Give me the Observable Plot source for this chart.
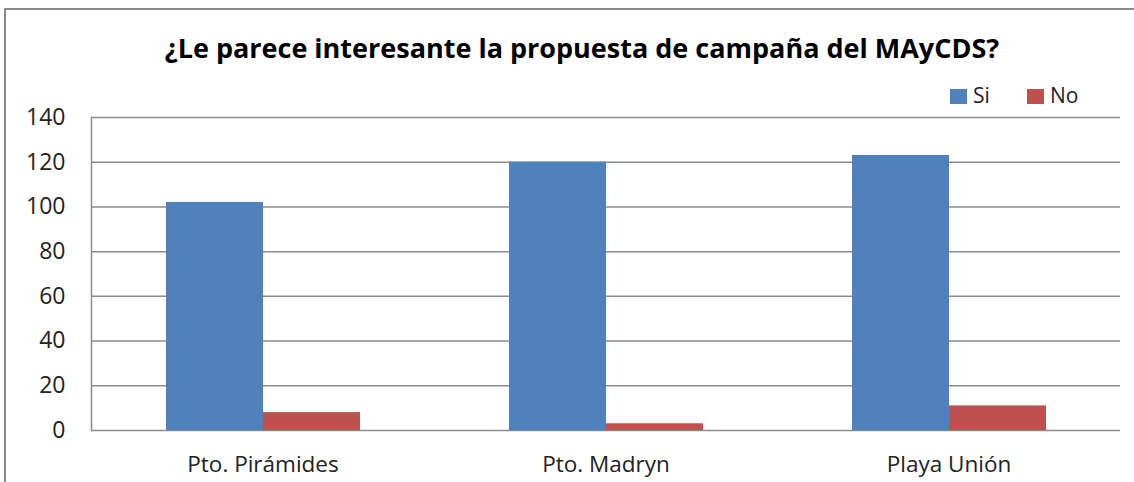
<!DOCTYPE html>
<html>
<head>
<meta charset="utf-8">
<script src="https://cdn.jsdelivr.net/npm/d3@7"></script>
<script src="https://cdn.jsdelivr.net/npm/@observablehq/plot@0.6"></script>
<style>
  html, body { margin: 0; padding: 0; background: #fff; overflow: hidden; }
  #wrap { position: relative; width: 1134px; height: 482px; overflow: hidden; }
  #btop { position: absolute; left: 4px; top: 8px; width: 1130px; height: 2px; background: #8a8a8a; }
  #bleft { position: absolute; left: 4px; top: 8px; width: 2px; height: 474px; background: #8a8a8a; }
  #rcover { position: absolute; left: 1122px; top: 10px; width: 12px; height: 472px; background: #fff; }
  #title { position: absolute; left: 0; width: 1164px; top: 29px; text-align: center; white-space: nowrap;
           font-family: "Open Sans", sans-serif; font-weight: bold; font-size: 27px; color: #000; }
  #legend { position: absolute; left: 912px; top: 80px; width: 197px; height: 34px; background: #fff;
            font-family: "Open Sans", sans-serif; font-size: 21px; color: #222; }
  .sw { position: absolute; top: 9px; width: 17px; height: 15px; }
  .lt { position: absolute; top: 1px; }
  #chart { position: absolute; left: 0; top: 0; }
</style>
</head>
<body>
<div id="wrap">
  <div id="btop"></div>
  <div id="bleft"></div>
  <div id="chart"></div>
  <div id="title">¿Le parece interesante la propuesta de campaña del MAyCDS?</div>
  <div id="legend"></div>
  <div id="rcover"></div>
</div>
<script>
const categories = ["Pto. Pirámides", "Pto. Madryn", "Playa Unión"];
const series = ["Si", "No"];
const siValues = [102, 120, 123];
const noValues = [8, 3, 11];
const yTicks = [0, 20, 40, 60, 80, 100, 120, 140];
const colors = ["#4F81BD", "#C0504D"];

const data = [];
categories.forEach((c, i) => {
  data.push({cat: c, serie: "Si", value: siValues[i]});
  data.push({cat: c, serie: "No", value: noValues[i]});
});

const plot = Plot.plot({
  width: 1134,
  height: 482,
  marginLeft: 90,
  marginRight: 14,
  marginTop: 117,
  marginBottom: 52,
  style: {fontFamily: "'Open Sans', sans-serif", fontSize: "22px", color: "#222", background: "transparent"},
  fx: {domain: categories, padding: 0, label: null},
  x: {domain: series, paddingInner: 0, paddingOuter: 0.76, axis: null},
  y: {domain: [0, 140], ticks: yTicks, label: null},
  color: {domain: series, range: colors},
  marks: [
    Plot.ruleY(yTicks, {stroke: "#8c8c8c", strokeWidth: 1.5, strokeOpacity: 1}),
    Plot.barY(data, {fx: "cat", x: "serie", y: "value", fill: "serie"}),
    Plot.axisY({ticks: yTicks, tickSize: 0, tickPadding: 26, fontSize: 23, anchor: "left"}),
    Plot.axisFx({anchor: "bottom", tickSize: 0, tickPadding: 26, fontSize: 22.5, label: null}),
    Plot.frame({anchor: "left", stroke: "#8c8c8c", strokeWidth: 1.5, facetAnchor: "left"})
  ]
});
document.getElementById("chart").appendChild(plot);

const legend = document.getElementById("legend");
const lx = [38, 115];
series.forEach((s, i) => {
  const sw = document.createElement("div");
  sw.className = "sw"; sw.style.left = lx[i] + "px"; sw.style.background = colors[i];
  legend.appendChild(sw);
  const t = document.createElement("div");
  t.className = "lt"; t.style.left = (lx[i] + 23) + "px"; t.textContent = s;
  legend.appendChild(t);
});
</script>
</body>
</html>
